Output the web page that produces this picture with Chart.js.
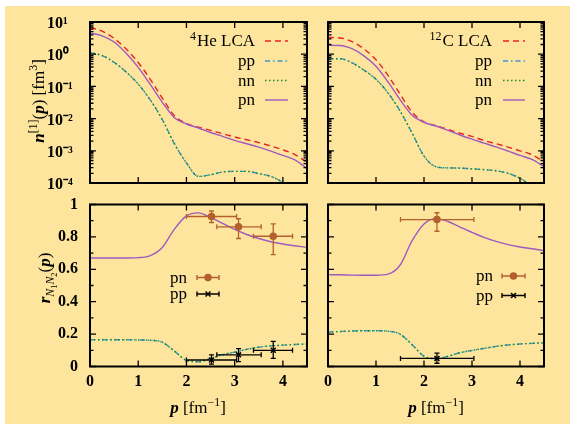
<!DOCTYPE html>
<html>
<head>
<meta charset="utf-8">
<script src="https://cdn.jsdelivr.net/npm/chart.js@4.4.0/dist/chart.umd.min.js"></script>
<style>
  html, body { margin: 0; padding: 0; background: #fff; }
  #fig { position: relative; width: 570px; height: 424px; overflow: hidden; }
  #bg { position: absolute; left: 5px; top: 6px; width: 565px; height: 418px; background: #fee59d; }
  canvas { position: absolute; left: 0; top: 0; }
  .lbl { position: absolute; white-space: nowrap; font-family: 'Liberation Serif', serif; font-size: 17px; color: #000; line-height: 1; }
  .rot { transform: translate(-50%, -50%) rotate(-90deg); }
  .ctr { transform: translate(-50%, -50%); }
  sup, sub { font-size: 70%; line-height: 0; }
</style>
</head>
<body>
<div id="fig">
  <div id="bg"></div>
  <canvas id="heTop" width="570" height="424"></canvas>
  <canvas id="cTop" width="570" height="424"></canvas>
  <canvas id="heBot" width="570" height="424"></canvas>
  <canvas id="cBot" width="570" height="424"></canvas>
  <div class="lbl rot" style="left:38px;top:101px"><b><i>n</i></b><sup>[1]</sup>(<b><i>p</i></b>) [fm<sup>3</sup>]</div>
  <div class="lbl rot" style="left:46px;top:278px"><b><i>r</i></b><sub><i>N</i><sub>1</sub><i>N</i><sub>2</sub></sub>(<b><i>p</i></b>)</div>
  <div class="lbl ctr" style="left:198px;top:407px"><b><i>p</i></b> [fm<sup>&minus;1</sup>]</div>
  <div class="lbl ctr" style="left:436px;top:407px"><b><i>p</i></b> [fm<sup>&minus;1</sup>]</div>
</div>
<script>
// momentum grid (fm^-1)
const pGrid = [0, 0.25, 0.5, 0.75, 1, 1.25, 1.5, 1.75, 2, 2.25, 2.5, 2.75, 3, 3.25, 3.5, 3.75, 4, 4.25, 4.5];

// one-body momentum distributions n(p) [fm^3]
const he4LCA = [6.8, 5.2, 3.1, 1.45, 0.55, 0.166, 0.043, 0.0123, 0.0070, 0.0054, 0.0043, 0.0034, 0.0027, 0.0022, 0.0018, 0.0014, 0.00107, 0.00076, 0.00044];
const he4PN  = [4.6, 3.7, 2.4, 1.07, 0.39, 0.115, 0.032, 0.0107, 0.0068, 0.0051, 0.0037, 0.0028, 0.0021, 0.00166, 0.0013, 0.00098, 0.00072, 0.00052, 0.00028];
const he4PP  = [1.12, 0.91, 0.56, 0.28, 0.118, 0.038, 0.0093, 0.00166, 0.00042, 0.00016, 0.00018, 0.00022, 0.00023, 0.00023, 0.000195, 0.00016, 0.000105, 0.000063, 0.000035];
const he4NN  = [1.12, 0.91, 0.56, 0.28, 0.118, 0.038, 0.0093, 0.00166, 0.00042, 0.00016, 0.00018, 0.00022, 0.00023, 0.00023, 0.000195, 0.00016, 0.000105, 0.000063, 0.000035];

const c12LCA = [3.3, 3.2, 2.45, 1.46, 0.67, 0.22, 0.058, 0.016, 0.0079, 0.006, 0.0046, 0.0035, 0.0028, 0.0021, 0.00166, 0.0013, 0.0010, 0.00076, 0.00044];
const c12PN  = [1.88, 1.86, 1.48, 0.89, 0.42, 0.138, 0.039, 0.0129, 0.0076, 0.0059, 0.0043, 0.0031, 0.0023, 0.00174, 0.00132, 0.00098, 0.00072, 0.00054, 0.00032];
const c12PP  = [0.72, 0.72, 0.54, 0.32, 0.166, 0.063, 0.0174, 0.0036, 0.00069, 0.00032, 0.000295, 0.00029, 0.000275, 0.00026, 0.00024, 0.0002, 0.00014, 0.00008, 0.000045];
const c12NN  = [0.72, 0.72, 0.54, 0.32, 0.166, 0.063, 0.0174, 0.0036, 0.00069, 0.00032, 0.000295, 0.00029, 0.000275, 0.00026, 0.00024, 0.0002, 0.00014, 0.00008, 0.000045];

// pair ratios r_N1N2(p)
const he4RatioPN = [0.67, 0.67, 0.67, 0.67, 0.672, 0.685, 0.735, 0.848, 0.93, 0.948, 0.92, 0.883, 0.846, 0.815, 0.79, 0.77, 0.756, 0.745, 0.735];
const he4RatioPP = [0.165, 0.165, 0.165, 0.165, 0.164, 0.162, 0.15, 0.095, 0.038, 0.029, 0.05, 0.073, 0.089, 0.106, 0.119, 0.127, 0.132, 0.136, 0.139];
const c12RatioPN = [0.567, 0.566, 0.564, 0.563, 0.563, 0.57, 0.625, 0.775, 0.88, 0.913, 0.895, 0.86, 0.828, 0.797, 0.772, 0.752, 0.738, 0.727, 0.715];
const c12RatioPP = [0.213, 0.216, 0.219, 0.221, 0.221, 0.218, 0.2, 0.135, 0.064, 0.049, 0.063, 0.085, 0.099, 0.112, 0.124, 0.133, 0.139, 0.143, 0.146];

// experimental ratios with x and y error bars
const he4ExpP   = [2.52, 3.08, 3.80];
const he4ExpPLo = [2.0, 2.63, 3.39];
const he4ExpPHi = [3.04, 3.55, 4.2];
const he4ExpPN   = [0.926, 0.862, 0.804];
const he4ExpPNLo = [0.889, 0.79, 0.69];
const he4ExpPNHi = [0.96, 0.912, 0.88];
const he4ExpPP   = [0.04, 0.072, 0.10];
const he4ExpPPLo = [0.015, 0.03, 0.05];
const he4ExpPPHi = [0.072, 0.11, 0.155];

const c12ExpP   = [2.27];
const c12ExpPLo = [1.51];
const c12ExpPHi = [3.04];
const c12ExpPN   = [0.907];
const c12ExpPNLo = [0.835];
const c12ExpPNHi = [0.949];
const c12ExpPP   = [0.05];
const c12ExpPPLo = [0.02];
const c12ExpPPHi = [0.083];

// tick values
const xTicks = [0, 1, 2, 3, 4];
const logTicks = [1e-4, 1e-3, 1e-2, 1e-1, 1, 10];
const ratioTicks = [0, 0.2, 0.4, 0.6, 0.8, 1];
const ratioMinor = [0.1, 0.3, 0.5, 0.7, 0.9];

const RED = '#ec2227', BLUE = '#3a97d3', GREEN = '#1c8a2a', PURPLE = '#a05ac0', BROWN = '#b3602e';
const FONT = 'Liberation Serif';

const supDigits = { '-': '\u207B', '0': '\u2070', '1': '\u00B9', '2': '\u00B2', '3': '\u00B3', '4': '\u2074' };

function curve(label, arr, color, dash) {
    return {
        label: label,
        data: pGrid.map((p, i) => ({ x: p, y: arr[i] })),
        borderColor: color,
        borderWidth: 1.4,
        borderDash: dash,
        pointRadius: 0,
        cubicInterpolationMode: 'monotone',
        fill: false
    };
}

// marker + horizontal bars + vertical bars
function expSets(label, p, pLo, pHi, v, vLo, vHi, color, style, radius) {
    const hData = [], vData = [];
    p.forEach((x, i) => {
        hData.push({ x: pLo[i], y: v[i] }, { x: pHi[i], y: v[i] }, { x: pHi[i], y: null });
        vData.push({ x: x, y: vLo[i] }, { x: x, y: vHi[i] }, { x: x, y: null });
    });
    const bar = {
        borderColor: color, borderWidth: 1.3, tension: 0, spanGaps: false,
        pointStyle: 'line', pointRadius: 2.5, pointBorderColor: color, pointBorderWidth: 1.3
    };
    return [
        { label: label, data: p.map((x, i) => ({ x: x, y: v[i] })), showLine: false,
          pointStyle: style, pointRadius: radius, pointBackgroundColor: color,
          pointBorderColor: color, pointBorderWidth: 1.5 },
        Object.assign({ label: label + '-h', data: hData, pointRotation: 90 }, bar),
        Object.assign({ label: label + '-v', data: vData, pointRotation: 0 }, bar)
    ];
}

// box, inward ticks and mirrored ticks like gnuplot
const framePlugin = {
    id: 'gpFrame',
    afterDatasetsDraw(chart, args, opts) {
        const { ctx, chartArea: a } = chart;
        const xs = chart.scales.x, ys = chart.scales.y;
        ctx.save();
        ctx.strokeStyle = '#000';
        ctx.setLineDash([]);
        ctx.lineWidth = 1.3;
        ctx.beginPath();
        const tick = (vals, len) => {
            vals.forEach(v => {
                const px = xs.getPixelForValue(v);
                ctx.moveTo(px, a.bottom); ctx.lineTo(px, a.bottom - len);
                ctx.moveTo(px, a.top); ctx.lineTo(px, a.top + len);
            });
        };
        const ytick = (vals, len) => {
            vals.forEach(v => {
                const py = ys.getPixelForValue(v);
                ctx.moveTo(a.left, py); ctx.lineTo(a.left + len, py);
                ctx.moveTo(a.right, py); ctx.lineTo(a.right - len, py);
            });
        };
        tick(opts.xMajor, 6);
        ytick(opts.yMajor, 6);
        ytick(opts.yMinor, 3.5);
        ctx.stroke();
        ctx.lineWidth = 2;
        ctx.strokeRect(a.left, a.top, a.right - a.left, a.bottom - a.top);
        ctx.restore();
    }
};

// key drawn like gnuplot: right aligned text, sample on the right
const keyPlugin = {
    id: 'gpKey',
    afterDatasetsDraw(chart, args, opts) {
        const ctx = chart.ctx;
        ctx.save();
        opts.rows.forEach(row => {
            const ds = chart.data.datasets.find(d => d.label === row.label);
            const base = row.y + 5;
            ctx.fillStyle = '#000';
            ctx.font = '17px "' + FONT + '"';
            ctx.textAlign = 'right';
            ctx.textBaseline = 'alphabetic';
            ctx.fillText(row.text, opts.textRight, base);
            if (row.sup) {
                const w = ctx.measureText(row.text).width;
                ctx.font = '12px "' + FONT + '"';
                ctx.fillText(row.sup, opts.textRight - w - 1, base - 6);
            }
            const x0 = opts.sampleFrom, x1 = opts.sampleTo, y = row.y;
            ctx.beginPath();
            ctx.strokeStyle = ds.borderColor || ds.pointBorderColor;
            ctx.lineWidth = 1.4;
            if (row.err) {
                ctx.setLineDash([]);
                ctx.moveTo(x0, y); ctx.lineTo(x1, y);
                ctx.moveTo(x0, y - 2.5); ctx.lineTo(x0, y + 2.5);
                ctx.moveTo(x1, y - 2.5); ctx.lineTo(x1, y + 2.5);
                ctx.stroke();
                ctx.fillStyle = ds.pointBackgroundColor;
                ctx.lineWidth = ds.pointBorderWidth;
                Chart.helpers.drawPoint(ctx, { pointStyle: ds.pointStyle, radius: ds.pointRadius, rotation: 0, borderWidth: ds.pointBorderWidth }, (x0 + x1) / 2, y);
            } else {
                ctx.setLineDash(ds.borderDash || []);
                ctx.moveTo(x0, y); ctx.lineTo(x1, y);
                ctx.stroke();
            }
        });
        ctx.restore();
    }
};

function makeChart(id, datasets, o) {
    const tickFont = { family: FONT, size: 16, weight: 'bold' };
    const yOpts = o.log ? {
        type: 'logarithmic', min: 1e-4, max: 10,
        afterBuildTicks: s => { s.ticks = logTicks.map(v => ({ value: v })); },
        ticks: {
            font: tickFont, color: '#000', crossAlign: 'far', padding: 0, labelOffset: 2,
            callback: v => '10' + String(Math.round(Math.log10(v))).split('').map(c => supDigits[c]).join('')
        }
    } : {
        type: 'linear', min: 0, max: 1,
        afterBuildTicks: s => { s.ticks = ratioTicks.map(v => ({ value: v })); },
        ticks: { font: tickFont, color: '#000', padding: 12, callback: v => String(v) }
    };
    yOpts.display = o.yLabels;
    yOpts.grid = { display: false, drawTicks: false };
    yOpts.border = { display: false };
    yOpts.afterFit = s => { s.width = o.yWidth; };

    const xOpts = {
        type: 'linear', min: 0, max: 4.5,
        display: o.xLabels,
        afterBuildTicks: s => { s.ticks = xTicks.map(v => ({ value: v })); },
        ticks: { font: tickFont, color: '#000', padding: 6, maxRotation: 0 },
        grid: { display: false, drawTicks: false },
        border: { display: false },
        afterFit: s => { s.height = o.xLabels ? 30 : 0; }
    };

    let yMinor = ratioMinor;
    if (o.log) {
        yMinor = [];
        logTicks.slice(0, -1).forEach(d => { for (let k = 2; k <= 9; k++) yMinor.push(d * k); });
    }

    return new Chart(document.getElementById(id), {
        type: 'line',
        data: { datasets: datasets },
        options: {
            responsive: false,
            animation: false,
            devicePixelRatio: 1,
            events: [],
            layout: { padding: o.padding },
            scales: { x: xOpts, y: yOpts },
            plugins: {
                legend: { display: false },
                tooltip: { enabled: false },
                gpFrame: { xMajor: xTicks, yMajor: o.log ? logTicks : ratioTicks, yMinor: yMinor },
                gpKey: o.key
            }
        },
        plugins: [framePlugin, keyPlugin]
    });
}

// 4He n(p)
makeChart('heTop', [
    curve('pn', he4PN, PURPLE, []),
    curve('nn', he4NN, GREEN, [1.5, 2.5]),
    curve('pp', he4PP, BLUE, [5, 3, 1.5, 3]),
    curve('LCA', he4LCA, RED, [6, 4])
], {
    log: true, yLabels: true, xLabels: false, yWidth: 43,
    padding: { left: 47, right: 263, top: 22, bottom: 241 },
    key: { textRight: 255, sampleFrom: 265, sampleTo: 288, rows: [
        { label: 'LCA', text: 'He LCA', sup: '4', y: 41 },
        { label: 'pp', text: 'pp', y: 61 },
        { label: 'nn', text: 'nn', y: 80.5 },
        { label: 'pn', text: 'pn', y: 100 }
    ] }
});

// 12C n(p)
makeChart('cTop', [
    curve('pn', c12PN, PURPLE, []),
    curve('nn', c12NN, GREEN, [1.5, 2.5]),
    curve('pp', c12PP, BLUE, [5, 3, 1.5, 3]),
    curve('LCA', c12LCA, RED, [6, 4])
], {
    log: true, yLabels: false, xLabels: false, yWidth: 0,
    padding: { left: 328, right: 26, top: 22, bottom: 241 },
    key: { textRight: 492, sampleFrom: 503, sampleTo: 525, rows: [
        { label: 'LCA', text: 'C LCA', sup: '12', y: 41 },
        { label: 'pp', text: 'pp', y: 61 },
        { label: 'nn', text: 'nn', y: 80.5 },
        { label: 'pn', text: 'pn', y: 100 }
    ] }
});

// 4He ratios
makeChart('heBot', [].concat(
    expSets('pn data', he4ExpP, he4ExpPLo, he4ExpPHi, he4ExpPN, he4ExpPNLo, he4ExpPNHi, BROWN, 'circle', 3),
    expSets('pp data', he4ExpP, he4ExpPLo, he4ExpPHi, he4ExpPP, he4ExpPPLo, he4ExpPPHi, '#000', 'crossRot', 3.5),
    [curve('pn', he4RatioPN, PURPLE, []),
     curve('nn', he4RatioPP, GREEN, [1.5, 2.5]),
     curve('pp', he4RatioPP, BLUE, [5, 3, 1.5, 3])]
), {
    log: false, yLabels: true, xLabels: true, yWidth: 40,
    padding: { left: 50, right: 263, top: 204.5, bottom: 27.5 },
    key: { textRight: 187, sampleFrom: 197, sampleTo: 219, rows: [
        { label: 'pn data', text: 'pn', y: 277.5, err: true },
        { label: 'pp data', text: 'pp', y: 294, err: true }
    ] }
});

// 12C ratios
makeChart('cBot', [].concat(
    expSets('pn data', c12ExpP, c12ExpPLo, c12ExpPHi, c12ExpPN, c12ExpPNLo, c12ExpPNHi, BROWN, 'circle', 3),
    expSets('pp data', c12ExpP, c12ExpPLo, c12ExpPHi, c12ExpPP, c12ExpPPLo, c12ExpPPHi, '#000', 'crossRot', 3.5),
    [curve('pn', c12RatioPN, PURPLE, []),
     curve('nn', c12RatioPP, GREEN, [1.5, 2.5]),
     curve('pp', c12RatioPP, BLUE, [5, 3, 1.5, 3])]
), {
    log: false, yLabels: false, xLabels: true, yWidth: 0,
    padding: { left: 328, right: 26, top: 204.5, bottom: 27.5 },
    key: { textRight: 493, sampleFrom: 502, sampleTo: 525, rows: [
        { label: 'pn data', text: 'pn', y: 276, err: true },
        { label: 'pp data', text: 'pp', y: 295.5, err: true }
    ] }
});
</script>
</body>
</html>
